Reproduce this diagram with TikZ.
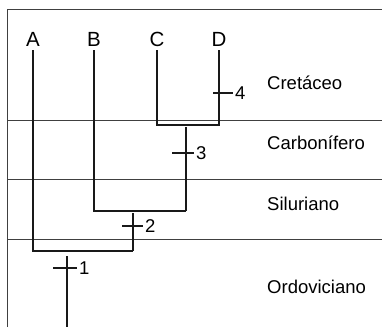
\documentclass[tikz,border=0pt]{standalone}
\usepackage{fontspec}
\setmainfont{Liberation Sans}
\begin{document}
\begin{tikzpicture}[x=1pt,y=-1pt,
  ln/.style={line width=1.1pt,color=black!90},
  grid/.style={line width=0.8pt,color=black!75},
  taxon/.style={font=\fontsize{20.5}{20.5}\selectfont,inner sep=0pt,anchor=base},
  period/.style={font=\fontsize{18.5}{18.5}\selectfont,inner sep=0pt,anchor=base west},
  num/.style={font=\fontsize{18.5}{18.5}\selectfont,inner sep=0pt,anchor=west}]
\useasboundingbox (0,0) rectangle (382,327);
% frame and period lines
\coordinate (fl) at (7.5,327);
\coordinate (ft) at (7.5,9);
\coordinate (fr) at (382,9);
\draw[grid] (fl) -- (ft) -- (fr);
\foreach \yy/\nm in {120/l1,179/l2,239/l3}{
  \coordinate (\nm a) at (7.5,\yy);
  \coordinate (\nm b) at (382,\yy);
  \draw[grid] (\nm a) -- (\nm b);
}
% period labels
\node[period] (cre) at (267,89) {Cretáceo};
\node[period] (car) at (267,149) {Carbonífero};
\node[period] (sil) at (267,210) {Siluriano};
\node[period] (ord) at (267,293) {Ordoviciano};
% taxa
\node[taxon] (A) at (33,46) {A};
\node[taxon] (B) at (94,46) {B};
\node[taxon] (C) at (157,46) {C};
\node[taxon] (D) at (219,46) {D};
\coordinate (At) at (33,50);
\coordinate (Bt) at (94,50);
\coordinate (Ct) at (157,50);
\coordinate (Dt) at (219,50);
% junctions
\coordinate (Cj) at (157,125);
\coordinate (Dj) at (219,125);
\coordinate (cdm) at (186,127);
\coordinate (Bj) at (94,211);
\coordinate (cdj) at (186,211);
\coordinate (bm) at (133,213);
\coordinate (Aj) at (33,251);
\coordinate (bj) at (133,251);
\coordinate (root) at (67,256);
\coordinate (rootb) at (67,327);
\draw[ln] (Ct) -- (Cj) -- (Dj) -- (Dt);
\draw[ln] (cdm) -- (cdj);
\draw[ln] (Bt) -- (Bj) -- (cdj);
\draw[ln] (bm) -- (bj);
\draw[ln] (At) -- (Aj) -- (bj);
\draw[ln] (root) -- (rootb);
% ticks
\coordinate (t4a) at (213,93); \coordinate (t4b) at (233,93);
\coordinate (t3a) at (172,153); \coordinate (t3b) at (194,153);
\coordinate (t2a) at (122,226); \coordinate (t2b) at (143,226);
\coordinate (t1a) at (53,268); \coordinate (t1b) at (77,268);
\draw[ln] (t4a) -- (t4b); \node[num] (n4) at (235,93) {4};
\draw[ln] (t3a) -- (t3b); \node[num] (n3) at (196,153) {3};
\draw[ln] (t2a) -- (t2b); \node[num] (n2) at (145,226) {2};
\draw[ln] (t1a) -- (t1b); \node[num] (n1) at (79,268) {1};
\end{tikzpicture}
\end{document}
